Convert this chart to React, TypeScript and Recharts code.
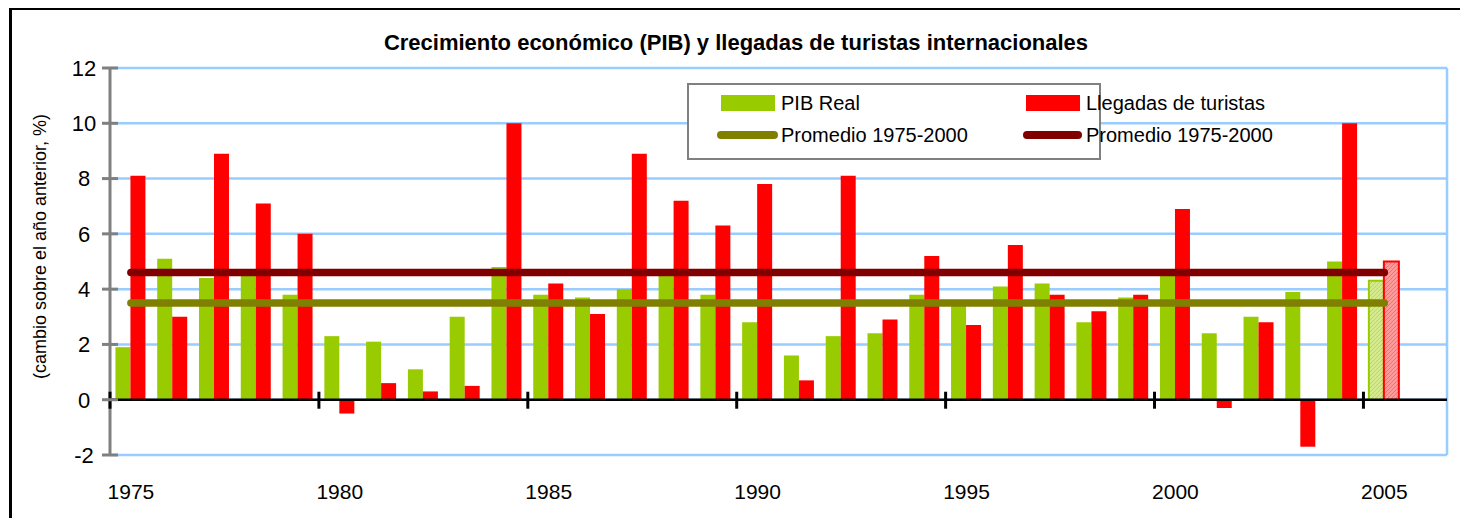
import { ComposedChart, Bar, Cell, XAxis, YAxis, CartesianGrid, ReferenceLine, Legend } from 'recharts';

const years = [
  1975, 1976, 1977, 1978, 1979, 1980, 1981, 1982, 1983, 1984,
  1985, 1986, 1987, 1988, 1989, 1990, 1991, 1992, 1993, 1994,
  1995, 1996, 1997, 1998, 1999, 2000, 2001, 2002, 2003, 2004,
  2005, 2006,
];
const pibReal = [
  1.9, 5.1, 4.4, 4.6, 3.8, 2.3, 2.1, 1.1, 3.0, 4.8,
  3.8, 3.7, 4.0, 4.6, 3.8, 2.8, 1.6, 2.3, 2.4, 3.8,
  3.6, 4.1, 4.2, 2.8, 3.7, 4.6, 2.4, 3.0, 3.9, 5.0,
  4.3, null,
];
const llegadas = [
  8.1, 3.0, 8.9, 7.1, 6.0, -0.5, 0.6, 0.3, 0.5, 10.0,
  4.2, 3.1, 8.9, 7.2, 6.3, 7.8, 0.7, 8.1, 2.9, 5.2,
  2.7, 5.6, 3.8, 3.2, 3.8, 6.9, -0.3, 2.8, -1.7, 10.0,
  5.0, null,
];
const estimatedYears = [2005];
const xTicks = [1975, 1980, 1985, 1990, 1995, 2000, 2005];
const yTicks = [-2, 0, 2, 4, 6, 8, 10, 12];
const avgFrom = 1975;
const avgTo = 2005;
const pibAvg = 3.5;
const llegadasAvg = 4.6;

const data = years.map((year, i) => ({ year, pib: pibReal[i], tur: llegadas[i] }));

const FONT = 'Arial, "Liberation Sans", sans-serif';
const GREEN = '#99cc00';
const RED = '#ff0000';
const OLIVE = '#808000';
const MAROON = '#800000';

const W = 1454;
const H = 514;
const MARGIN = { top: 58, right: 19, left: 38, bottom: 29 };
const Y_AXIS_W = 60;
const X_AXIS_H = 40;
const Y_MIN = -2;
const Y_MAX = 12;
const PLOT_W = W - MARGIN.left - MARGIN.right - Y_AXIS_W;
const PLOT_H = H - MARGIN.top - MARGIN.bottom - X_AXIS_H;
const BAND = PLOT_W / years.length;

// year label at the bottom, tick mark sits on the zero line at the category's left edge
function XTick(props: any) {
  const { x, y, payload } = props;
  const zeroY = y - (PLOT_H * (0 - Y_MIN)) / (Y_MAX - Y_MIN);
  const edge = x - BAND / 2;
  return (
    <g>
      <line x1={edge} y1={zeroY - 8} x2={edge} y2={zeroY + 9} stroke="#000" strokeWidth={3} />
      <text x={x} y={y + 44} textAnchor="middle" fontSize={21} fontFamily={FONT} fill="#000">
        {payload.value}
      </text>
    </g>
  );
}

function YTick(props: any) {
  const { x, y, payload } = props;
  const axisX = x + 14;
  return (
    <g>
      <line x1={axisX - 8} y1={y} x2={axisX + 8} y2={y} stroke="#808080" strokeWidth={3} />
      <text x={axisX - 26} y={y} dy="0.36em" textAnchor="middle" fontSize={22} fontFamily={FONT} fill="#000">
        {payload.value}
      </text>
    </g>
  );
}

function YLabel(props: any) {
  const { viewBox } = props;
  const cx = viewBox.x - 10;
  const cy = viewBox.y + viewBox.height / 2 - 15;
  return (
    <text
      x={cx}
      y={cy}
      transform={`rotate(-90 ${cx} ${cy})`}
      textAnchor="middle"
      dominantBaseline="central"
      fontSize={18}
      fontFamily={FONT}
      fill="#000"
    >
      (cambio sobre el año anterior, %)
    </text>
  );
}

function LegendBox() {
  const txt = { position: 'absolute' as const, fontSize: 20, fontFamily: FONT, lineHeight: '24px', whiteSpace: 'nowrap' as const };
  return (
    <div style={{ position: 'relative', width: 414, height: 77, border: '2px solid #808080', boxSizing: 'border-box', background: '#fff' }}>
      <div style={{ position: 'absolute', left: 32, top: 10, width: 54, height: 16, background: GREEN }} />
      <div style={{ ...txt, left: 92, top: 6 }}>PIB Real</div>
      <div style={{ position: 'absolute', left: 28, top: 46, width: 61, height: 8, borderRadius: 4, background: OLIVE }} />
      <div style={{ ...txt, left: 92, top: 38 }}>Promedio 1975-2000</div>
      <div style={{ position: 'absolute', left: 337, top: 10, width: 54, height: 16, background: RED }} />
      <div style={{ ...txt, left: 397, top: 6 }}>Llegadas de turistas</div>
      <div style={{ position: 'absolute', left: 334, top: 46, width: 59, height: 8, borderRadius: 4, background: MAROON }} />
      <div style={{ ...txt, left: 397, top: 38 }}>Promedio 1975-2000</div>
    </div>
  );
}

export default function App() {
  return (
    <div
      style={{
        position: 'relative',
        marginLeft: 1,
        marginTop: -1,
        width: 1460,
        height: 520,
        border: '3px solid #000',
        boxSizing: 'border-box',
        background: '#fff',
      }}
    >
      <div
        style={{
          position: 'absolute',
          top: 20,
          left: 0,
          width: W - 6,
          textAlign: 'center',
          fontFamily: FONT,
          fontWeight: 'bold',
          fontSize: 22,
          lineHeight: '26px',
          zIndex: 2,
        }}
      >
        Crecimiento económico (PIB) y llegadas de turistas internacionales
      </div>
      <ComposedChart width={W} height={H} data={data} margin={MARGIN} barCategoryGap="13%" barGap={0}>
        <defs>
          <pattern id="hatchPib" width="4" height="4" patternUnits="userSpaceOnUse">
            <rect width="4" height="4" fill="#d4ea8c" />
            <path d="M0,4 L4,0" stroke="#b8d95a" strokeWidth="1" />
          </pattern>
          <pattern id="hatchTur" width="4" height="4" patternUnits="userSpaceOnUse">
            <rect width="4" height="4" fill="#ff9a9a" />
            <path d="M0,4 L4,0" stroke="#ff6a6a" strokeWidth="1" />
          </pattern>
        </defs>
        <CartesianGrid
          stroke="#99ccff"
          strokeWidth={2.5}
          vertical
          verticalCoordinatesGenerator={({ offset }: any) => [offset.left + offset.width]}
        />
        <XAxis
          dataKey="year"
          type="category"
          ticks={xTicks}
          interval={0}
          axisLine={false}
          tickLine={false}
          tickSize={0}
          tickMargin={0}
          height={X_AXIS_H}
          tick={<XTick />}
        />
        <YAxis
          domain={[Y_MIN, Y_MAX]}
          ticks={yTicks}
          interval={0}
          width={Y_AXIS_W}
          axisLine={{ stroke: '#808080', strokeWidth: 3 }}
          tickLine={false}
          tickSize={8}
          tickMargin={6}
          tick={<YTick />}
          label={<YLabel />}
        />
        <Bar dataKey="pib" fill={GREEN} isAnimationActive={false}>
          {data.map((d) => (
            <Cell
              key={`p${d.year}`}
              fill={estimatedYears.includes(d.year) ? 'url(#hatchPib)' : GREEN}
              stroke={estimatedYears.includes(d.year) ? GREEN : 'none'}
              strokeWidth={2}
            />
          ))}
        </Bar>
        <Bar dataKey="tur" fill={RED} isAnimationActive={false}>
          {data.map((d) => (
            <Cell
              key={`t${d.year}`}
              fill={estimatedYears.includes(d.year) ? 'url(#hatchTur)' : RED}
              stroke={estimatedYears.includes(d.year) ? RED : 'none'}
              strokeWidth={2}
            />
          ))}
        </Bar>
        <ReferenceLine y={0} stroke="#000" strokeWidth={2.5} />
        <ReferenceLine
          segment={[{ x: avgFrom, y: pibAvg }, { x: avgTo, y: pibAvg }]}
          stroke={OLIVE}
          strokeWidth={7.5}
          strokeLinecap="round"
        />
        <ReferenceLine
          segment={[{ x: avgFrom, y: llegadasAvg }, { x: avgTo, y: llegadasAvg }]}
          stroke={MAROON}
          strokeWidth={7.5}
          strokeLinecap="round"
        />
        <Legend
          layout="horizontal"
          verticalAlign="middle"
          align="center"
          content={<LegendBox />}
          wrapperStyle={{ left: 675, top: 73, width: 414, height: 77 }}
        />
      </ComposedChart>
    </div>
  );
}
